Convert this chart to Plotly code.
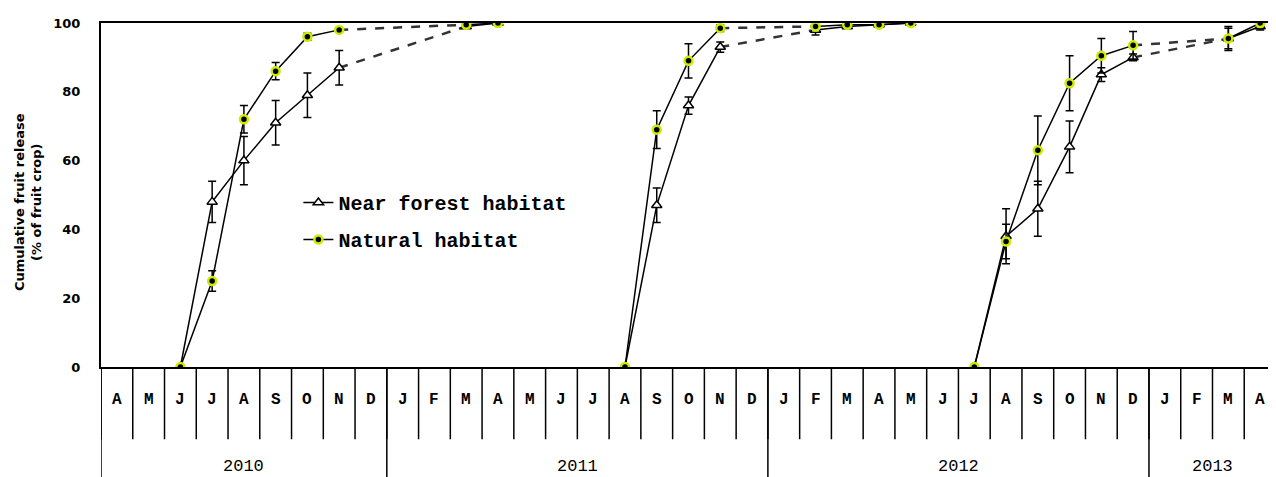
import plotly.graph_objects as go

# ---- categories ----
MONTHS = ["A", "M", "J", "J", "A", "S", "O", "N", "D",
          "J", "F", "M", "A", "M", "J", "J", "A", "S", "O", "N", "D",
          "J", "F", "M", "A", "M", "J", "J", "A", "S", "O", "N", "D",
          "J", "F", "M", "A"]
YEARS = ["2010", "2011", "2012", "2013"]
YEAR_MONTHS = [9, 12, 12, 4]

# month index (0 = April 2010) of each observation
OBS_MONTH = [2, 3, 4, 5, 6, 7, 11, 12, 16, 17, 18, 19, 22, 23, 24, 25,
             27, 28, 29, 30, 31, 32, 35, 36]
DASHED_FROM = [7, 19, 32]   # observation months followed by a dashed (unsampled) gap

# ---- series ----
NEAR_FOREST = [0, 48, 60, 71, 79, 87, 99, 100, 0, 47, 76, 93, 98, 99, 99.5, 100,
               0, 38, 46, 64, 85, 90, 95.5, 99]
NEAR_FOREST_ERR = [0, 6, 7, 6.5, 6.5, 5, 0.5, 0, 0, 5, 2.5, 1.5, 1.5, 0.5, 0.5, 0,
                   0, 8, 8, 7.5, 2, 1, 3, 1]
NATURAL = [0, 25, 72, 86, 96, 98, 99.5, 100, 0, 69, 89, 98.5, 99, 99.5, 99.5, 100,
           0, 36.5, 63, 82.5, 90.5, 93.5, 95.5, 100]
NATURAL_ERR = [0, 3, 4, 2.5, 1, 0.5, 0.3, 0, 0, 5.5, 5, 1, 0.5, 0.3, 0.3, 0,
               0, 5, 10, 8, 5, 4, 3.5, 1]


def split_solid(xs, ys, es):
    sx, sy, se = [], [], []
    for i, (x, y, e) in enumerate(zip(xs, ys, es)):
        if i > 0 and x - xs[i - 1] != 1:
            sx.append(None); sy.append(None); se.append(None)
        sx.append(x); sy.append(y); se.append(e)
    return sx, sy, se


def dashed(xs, ys):
    dx, dy = [], []
    for i in range(len(xs) - 1):
        if xs[i] in DASHED_FROM:
            dx += [xs[i], xs[i + 1], None]
            dy += [ys[i], ys[i + 1], None]
    return dx, dy


fig = go.Figure()

series = [
    ("<b>Near forest habitat</b>", NEAR_FOREST, NEAR_FOREST_ERR,
     dict(symbol="triangle-up", size=9, color="white", line=dict(color="black", width=1.5)), "g1"),
    ("<b>Natural habitat</b>", NATURAL, NATURAL_ERR,
     dict(symbol="circle", size=8, color="black", line=dict(color="#cdea00", width=2.5)), "g2"),
]

for name, vals, errs, mk, grp in series:
    dx, dy = dashed(OBS_MONTH, vals)
    fig.add_trace(go.Scatter(x=dx, y=dy, mode="lines", showlegend=False, legendgroup=grp,
                             line=dict(color="#333333", width=2.5, dash="dash"),
                             hoverinfo="skip"))
for name, vals, errs, mk, grp in series:
    sx, sy, se = split_solid(OBS_MONTH, vals, errs)
    fig.add_trace(go.Scatter(x=sx, y=sy, name=name, mode="lines+markers", legendgroup=grp,
                             line=dict(color="black", width=1.5),
                             marker=mk,
                             error_y=dict(type="data", array=se, visible=True,
                                          color="black", thickness=1.5, width=4)))

# ---- month / year axis table ----
shapes = []
annots = []
n = len(MONTHS)
for k in range(n + 1):
    shapes.append(dict(type="line", xref="x", yref="paper", x0=k - 0.5, x1=k - 0.5,
                       y0=0, y1=-0.21, line=dict(color="black", width=1.5)))
for k, m in enumerate(MONTHS):
    annots.append(dict(x=k, y=-0.095, xref="x", yref="paper", text="<b>" + m + "</b>",
                       showarrow=False,
                       font=dict(family="Liberation Mono", size=16, color="black"),
                       xanchor="center", yanchor="middle"))
start = 0
for yr, cnt in zip(YEARS, YEAR_MONTHS):
    shapes.append(dict(type="line", xref="x", yref="paper", x0=start - 0.5, x1=start - 0.5,
                       y0=0, y1=-0.36, line=dict(color="black", width=1.5)))
    annots.append(dict(x=start + (cnt - 1) / 2, y=-0.29, xref="x", yref="paper", text=yr,
                       showarrow=False,
                       font=dict(family="Liberation Mono", size=17, color="black"),
                       xanchor="center", yanchor="middle"))
    start += cnt

annots.append(dict(x=-0.062, y=0.48, xref="paper", yref="paper",
                   text="<b>Cumulative fruit release</b><br><b>(% of fruit crop)</b>",
                   textangle=-90, showarrow=False,
                   font=dict(family="DejaVu Sans", size=13, color="black"),
                   xanchor="center", yanchor="middle"))

fig.update_layout(
    width=1276, height=477,
    margin=dict(l=93, r=8, t=12, b=118),
    paper_bgcolor="white", plot_bgcolor="white",
    shapes=shapes, annotations=annots,
    legend=dict(x=0.168, y=0.535, xanchor="left", yanchor="top",
                bgcolor="rgba(0,0,0,0)", traceorder="grouped", tracegroupgap=8,
                font=dict(family="Liberation Mono", size=20, color="black"),
                itemwidth=30),
    xaxis=dict(range=[-0.5, 36.5], showticklabels=False, showgrid=False, zeroline=False,
               showline=True, mirror=True, linecolor="black", linewidth=2, ticks=""),
    yaxis=dict(range=[0, 100], tickvals=[0, 20, 40, 60, 80, 100],
               ticktext=["<b>0</b>", "<b>20</b>", "<b>40</b>", "<b>60</b>", "<b>80</b>", "<b>100</b>"],
               showgrid=False,
               zeroline=False, showline=True, linecolor="black", linewidth=2,
               ticks="", ticklabelstandoff=16,
               tickfont=dict(family="DejaVu Sans", size=13, color="black")),
)

fig.write_html("out.html")
